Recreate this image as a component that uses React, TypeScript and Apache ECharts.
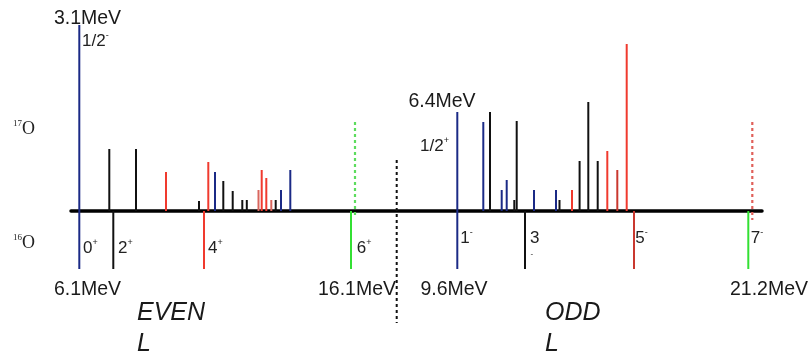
import React, { useEffect, useRef } from "react";
import * as echarts from "echarts";

// Colours by key
const palette: Record<string, string> = {
  blue: "#1b2a86",
  black: "#111111",
  red: "#f03a2e",
  lightRed: "#d9665e",
  darkRed: "#c9382f",
  green: "#33e033",
  greenDot: "#5ddc5d",
  redDot: "#e0605a",
};

// 17O levels (above the line): [position, strength, colour]
const upperPos = [8.3, 38.3, 65, 95, 128, 137.3, 144, 152.3, 161.7, 171.3, 175.8, 187.5, 190.7, 195.3, 200.3, 204.7, 210, 219.3,
  386.3, 412.3, 419, 430.7, 435.7, 443.3, 445.7, 463, 485, 488.5, 501, 508.6, 517.3, 526.7, 536.3, 546.3, 555.7];
const upperHeight = [186, 62, 62, 39, 10, 49, 39, 30, 20, 11, 11, 21, 41, 33, 11, 11, 21, 41,
  99, 89, 99, 21, 31, 11, 90, 21, 21, 11, 21, 50, 109, 50, 60, 41, 167];
const upperColor = ["blue", "black", "black", "red", "black", "red", "blue", "black", "black", "black", "black", "lightRed", "red", "red", "lightRed", "black", "blue", "blue",
  "blue", "blue", "black", "blue", "blue", "black", "black", "blue", "blue", "black", "red", "black", "black", "black", "red", "darkRed", "red"];

// 16O levels (below the line)
const lowerPos = [8.3, 42.3, 133, 280, 386.3, 454, 563, 677.3];
const lowerColor = ["blue", "black", "red", "green", "blue", "black", "darkRed", "green"];
const lowerDepth = -58;
const lowerSpin = ["0", "2", "4", "6", "1", "3", "5", "7"];
const lowerParity = ["+", "+", "+", "+", "-", "", "-", "-"];

// Dotted (predicted) levels: [position, top, bottom, colour]
const dottedPos = [284, 681.3];
const dottedTop = [89, 89];
const dottedBottom = [-7, -9];
const dottedColor = ["greenDot", "redDot"];

// Divider between even and odd
const dividerPos = 325.7;
const dividerTop = 51;
const dividerBottom = -112;

// Energy labels
const energyText = ["3.1MeV", "6.4MeV", "6.1MeV", "16.1MeV", "9.6MeV", "21.2MeV"];
const energyPos = [16.5, 371, 16.5, 286, 383, 698];
const energyY = [194, 111, -77, -77, -77, -77];

const FONT = "Liberation Sans, Arial, sans-serif";

type Seg = { x: number; top: number; bottom: number; color: string; dash?: number[]; width: number };

function segSeries(rows: Seg[], z = 3) {
  return {
    type: "custom",
    coordinateSystem: "cartesian2d",
    silent: true,
    z,
    data: rows.map((r) => [r.x, r.top, r.bottom]),
    encode: { x: 0, y: [1, 2] },
    renderItem: (params: any, api: any) => {
      const r = rows[params.dataIndex];
      const p1 = api.coord([api.value(0), api.value(1)]);
      const p2 = api.coord([api.value(0), api.value(2)]);
      return {
        type: "line",
        shape: { x1: p1[0], y1: p1[1], x2: p2[0], y2: p2[1] },
        style: { stroke: r.color, lineWidth: r.width, lineDash: r.dash || null },
      };
    },
  };
}

type Lbl = { x: number; y: number; text: string; align: string; size: number; italic?: boolean };

const rich = {
  n: { fontSize: 17, fontFamily: FONT, fill: "#222", lineHeight: 20 },
  s: { fontSize: 9, fontFamily: FONT, fill: "#222", verticalAlign: "top", lineHeight: 20 },
};

function textSeries(rows: Lbl[]) {
  return {
    type: "custom",
    coordinateSystem: "cartesian2d",
    silent: true,
    z: 5,
    data: rows.map((r) => [r.x, r.y]),
    encode: { x: 0, y: 1 },
    renderItem: (params: any, api: any) => {
      const r = rows[params.dataIndex];
      const p = api.coord([api.value(0), api.value(1)]);
      return {
        type: "text",
        x: p[0],
        y: p[1],
        style: {
          text: r.text,
          align: r.align,
          verticalAlign: "middle",
          fontSize: r.size,
          fontFamily: FONT,
          fontStyle: r.italic ? "italic" : "normal",
          fill: "#1a1a1a",
          rich,
        },
      };
    },
  };
}

export default function App() {
  const ref = useRef<HTMLDivElement>(null);
  useEffect(() => {
    if (!ref.current) return;
    document.body.style.margin = "0";
    const chart = echarts.init(ref.current, null, { renderer: "svg" });

    const upper: Seg[] = upperPos.map((x, i) => ({ x, top: upperHeight[i], bottom: 0, color: palette[upperColor[i]], width: 2 }));
    const lower: Seg[] = lowerPos.map((x, i) => ({ x, top: 0, bottom: lowerDepth, color: palette[lowerColor[i]], width: 2 }));
    const dotted: Seg[] = dottedPos.map((x, i) => ({ x, top: dottedTop[i], bottom: dottedBottom[i], color: palette[dottedColor[i]], width: 2.2, dash: [3, 3] }));
    const divider: Seg[] = [{ x: dividerPos, top: dividerTop, bottom: dividerBottom, color: "#111", width: 2, dash: [3, 3] }];

    const labels: Lbl[] = [];
    energyText.forEach((t, i) => labels.push({ x: energyPos[i], y: energyY[i], text: t, align: "center", size: 19.5 }));
    // spin labels of 16O levels
    const spinOffset = [3.7, 4.7, 4, 5.7, 3, 5, 1.2, 2.4];
    lowerPos.forEach((x, i) => {
      const even = i < 4;
      const par = lowerParity[i];
      labels.push({ x: x + spinOffset[i], y: even ? -36 : -26, text: par ? `{n|${lowerSpin[i]}}{s|${par}}` : `{n|${lowerSpin[i]}}`, align: "left", size: 17 });
    });
    labels.push({ x: 459.5, y: -42, text: "-", align: "left", size: 8 });
    // 17O spin labels
    labels.push({ x: upperPos[0] + 2.7, y: 171, text: "{n|1/2}{s|-}", align: "left", size: 17 });
    labels.push({ x: 363.5, y: 66, text: "{n|1/2}{s|+}", align: "center", size: 17 });
    // parity group titles
    labels.push({ x: 66, y: -100, text: "EVEN", align: "left", size: 25, italic: true });
    labels.push({ x: 66, y: -131, text: "L", align: "left", size: 25, italic: true });
    labels.push({ x: 474, y: -100, text: "ODD", align: "left", size: 25, italic: true });
    labels.push({ x: 474, y: -131, text: "L", align: "left", size: 25, italic: true });

    const serif = "Liberation Serif, Times New Roman, serif";
    const nucRich = {
      a: { fontSize: 9, fontFamily: serif, fill: "#222", verticalAlign: "top", lineHeight: 20 },
      b: { fontSize: 18, fontFamily: serif, fill: "#222", lineHeight: 20 },
    };

    chart.setOption({
      animation: false,
      grid: { left: 71, right: 48, top: 21, bottom: 30, containLabel: false },
      xAxis: {
        type: "value",
        min: 0,
        max: 691,
        axisLine: { show: true, onZero: true, lineStyle: { color: "#000", width: 3.5 } },
        axisTick: { show: false },
        axisLabel: { show: false },
        splitLine: { show: false },
      },
      yAxis: {
        type: "value",
        min: -115,
        max: 190,
        show: false,
        splitLine: { show: false },
      },
      graphic: [
        { type: "text", left: 13, top: 118, style: { text: "{a|17}{b|O}", rich: nucRich } },
        { type: "text", left: 13, top: 232, style: { text: "{a|16}{b|O}", rich: nucRich } },
      ],
      series: [segSeries(upper), segSeries(lower), segSeries(dotted, 4), segSeries(divider), textSeries(labels)],
    });
    return () => chart.dispose();
  }, []);
  return <div ref={ref} style={{ position: "fixed", left: 0, top: 0, width: 810, height: 356 }} />;
}
